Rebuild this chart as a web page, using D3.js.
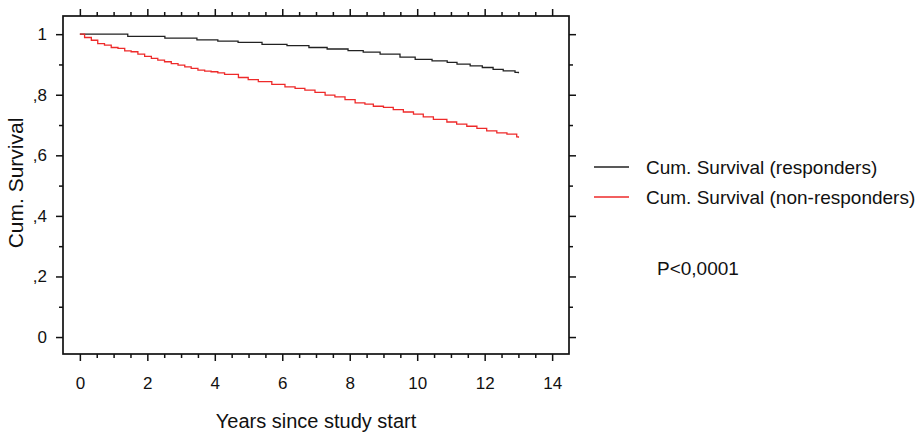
<!DOCTYPE html>
<html>
<head>
<meta charset="utf-8">
<script src="https://cdn.jsdelivr.net/npm/d3@7"></script>
<style>
  body { margin: 0; background: #fff; }
  svg text { font-family: "Liberation Sans", Arial, sans-serif; fill: #111; }
</style>
</head>
<body>
<svg id="chart" width="920" height="433"></svg>
<script>
// Kaplan-Meier steps: [years, cum. survival]
var responders = [
  [0, 1.000], [1.42, 0.993], [2.52, 0.987], [3.47, 0.981], [4.09, 0.977],
  [4.69, 0.973], [5.40, 0.966], [6.14, 0.962], [6.79, 0.956], [7.33, 0.951],
  [7.95, 0.946], [8.40, 0.941], [8.90, 0.934], [9.49, 0.924], [9.94, 0.917],
  [10.44, 0.912], [10.89, 0.907], [11.18, 0.901], [11.57, 0.895], [11.93, 0.890],
  [12.25, 0.884], [12.55, 0.879], [12.90, 0.874], [13.0, 0.871]
];
var nonResponders = [
  [0, 1.000], [0.14, 0.989], [0.34, 0.980], [0.53, 0.969], [0.73, 0.964],
  [0.93, 0.956], [1.13, 0.953], [1.33, 0.945], [1.52, 0.942], [1.72, 0.934],
  [1.92, 0.927], [2.12, 0.920], [2.31, 0.914], [2.51, 0.909], [2.71, 0.903],
  [2.91, 0.898], [3.11, 0.892], [3.30, 0.887], [3.50, 0.881], [3.70, 0.878],
  [3.89, 0.876], [4.09, 0.872], [4.29, 0.867], [4.70, 0.857], [4.99, 0.850],
  [5.29, 0.843], [5.69, 0.834], [6.08, 0.826], [6.38, 0.821], [6.67, 0.815],
  [6.97, 0.808], [7.27, 0.799], [7.56, 0.793], [7.86, 0.784], [8.16, 0.773],
  [8.45, 0.769], [8.70, 0.762], [9.00, 0.758], [9.29, 0.751], [9.59, 0.743],
  [9.89, 0.736], [10.18, 0.727], [10.48, 0.719], [10.88, 0.710], [11.17, 0.703],
  [11.47, 0.696], [11.77, 0.689], [12.06, 0.681], [12.36, 0.674], [12.66, 0.670],
  [12.95, 0.661], [13.0, 0.658]
];
var xTicks = [0, 2, 4, 6, 8, 10, 12, 14];
var yTicks = [0, 0.2, 0.4, 0.6, 0.8, 1];
var yTickLabels = ["0", ",2", ",4", ",6", ",8", "1"];
var seriesNames = ["Cum. Survival (responders)", "Cum. Survival (non-responders)"];
var pValue = "P<0,0001";

var svg = d3.select("#chart");
var margin = {top: 16, left: 63};
var width = 506, height = 338;
var g = svg.append("g").attr("transform", "translate(" + margin.left + "," + margin.top + ")");

var x = d3.scaleLinear().domain([-0.5, 14.5]).range([0, width]);
var y = d3.scaleLinear().domain([-0.056, 1.06]).range([height, 0]);

var xMinor = d3.range(0, 14.01, 0.5).filter(function(v) { return v % 2 !== 0; });
var yMinor = [0.1, 0.3, 0.5, 0.7, 0.9];

function styleAxis(sel) {
  sel.selectAll(".domain").remove();
  sel.selectAll("line").attr("stroke", "#111").attr("stroke-width", 1.5);
  sel.selectAll("text").style("font-size", "17px").attr("fill", "#111");
}

// bottom
g.append("g").attr("transform", "translate(0," + height + ")")
  .call(d3.axisBottom(x).tickValues(xTicks).tickSize(7).tickPadding(16).tickFormat(d3.format("d")))
  .call(styleAxis);
g.append("g").attr("transform", "translate(0," + height + ")")
  .call(d3.axisBottom(x).tickValues(xMinor).tickSize(4).tickFormat(""))
  .call(styleAxis);
// top
g.append("g")
  .call(d3.axisTop(x).tickValues(xTicks).tickSize(7).tickFormat(""))
  .call(styleAxis);
g.append("g")
  .call(d3.axisTop(x).tickValues(xMinor).tickSize(4).tickFormat(""))
  .call(styleAxis);
// left
g.append("g")
  .call(d3.axisLeft(y).tickValues(yTicks).tickSize(7).tickPadding(9)
    .tickFormat(function(d, i) { return yTickLabels[i]; }))
  .call(styleAxis);
g.append("g")
  .call(d3.axisLeft(y).tickValues(yMinor).tickSize(4).tickFormat(""))
  .call(styleAxis);
// right
g.append("g").attr("transform", "translate(" + width + ",0)")
  .call(d3.axisRight(y).tickValues(yTicks).tickSize(7).tickFormat(""))
  .call(styleAxis);
g.append("g").attr("transform", "translate(" + width + ",0)")
  .call(d3.axisRight(y).tickValues(yMinor).tickSize(4).tickFormat(""))
  .call(styleAxis);

// frame
g.append("rect")
  .attr("width", width).attr("height", height)
  .attr("fill", "none").attr("stroke", "#111").attr("stroke-width", 1.7);

var line = d3.line()
  .x(function(d) { return x(d[0]); })
  .y(function(d) { return y(d[1]); })
  .curve(d3.curveStepAfter);

var colors = ["#222", "#ee2a2a"];
[responders, nonResponders].forEach(function(s, i) {
  g.append("path")
    .datum(s)
    .attr("fill", "none")
    .attr("stroke", colors[i])
    .attr("stroke-width", 1.3)
    .attr("d", line);
});

// axis titles
svg.append("text")
  .attr("x", margin.left + x(7))
  .attr("y", 428)
  .attr("text-anchor", "middle")
  .style("font-size", "20px")
  .text("Years since study start");

svg.append("text")
  .attr("transform", "translate(23,183) rotate(-90)")
  .attr("text-anchor", "middle")
  .style("font-size", "21px")
  .text("Cum. Survival");

// legend
var legend = svg.selectAll(".legend")
  .data(seriesNames)
  .enter().append("g")
    .attr("class", "legend")
    .attr("transform", function(d, i) { return "translate(594," + (167 + i * 30) + ")"; });

legend.append("line")
  .attr("x1", 0).attr("x2", 35)
  .attr("stroke", function(d, i) { return colors[i]; })
  .attr("stroke-width", 1.3);

legend.append("text")
  .attr("x", 52)
  .attr("dy", "0.35em")
  .style("font-size", "19px")
  .text(function(d) { return d; });

svg.append("text")
  .attr("x", 657)
  .attr("y", 268)
  .attr("dy", "0.35em")
  .style("font-size", "19px")
  .text(pValue);
</script>
</body>
</html>
